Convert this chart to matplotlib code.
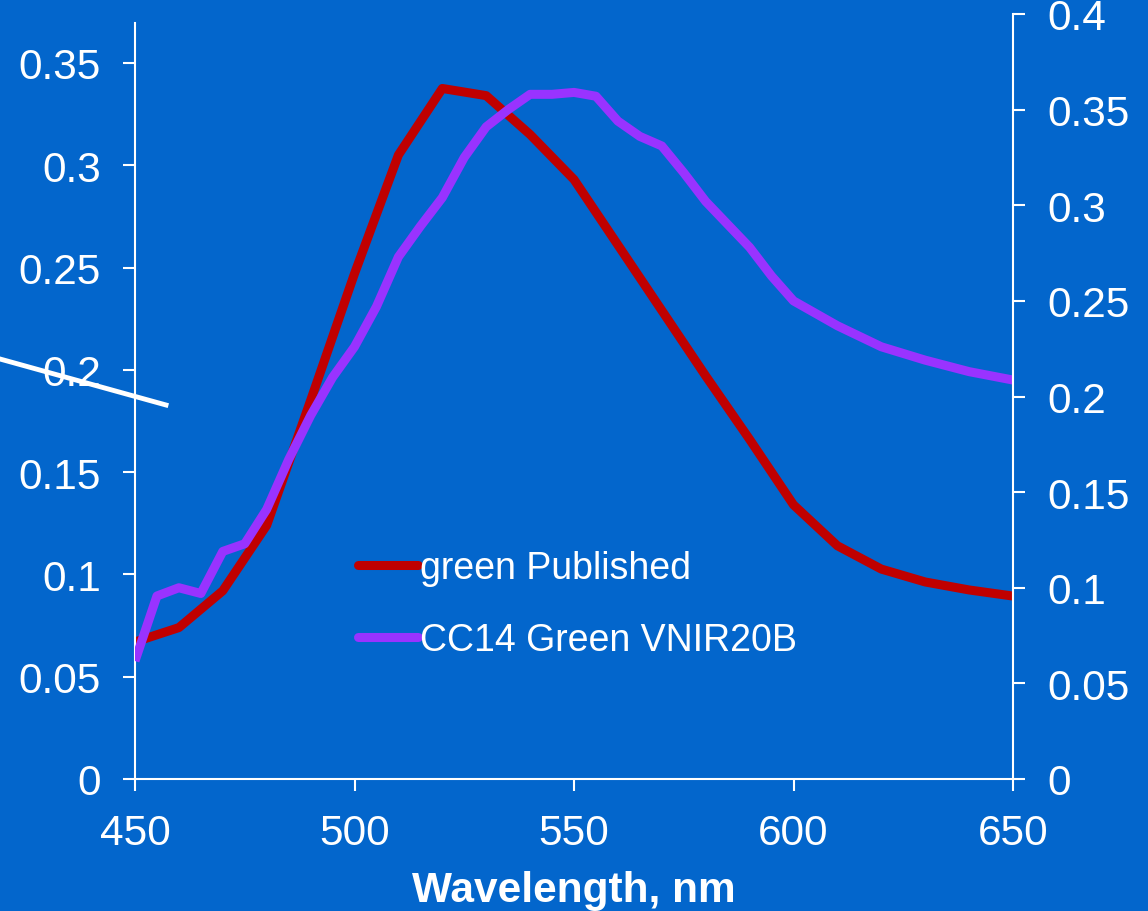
import numpy as np
import matplotlib
matplotlib.use("Agg")
import matplotlib.pyplot as plt
from matplotlib.lines import Line2D
from matplotlib.ticker import FuncFormatter

plt.rcParams['font.family'] = ['Liberation Sans', 'DejaVu Sans']

# colours
BG = '#0366CC'
RED = '#C00000'
PURPLE = '#9933FF'

# data
wl_pub = [450, 460, 470, 480, 490, 500, 510, 520, 530, 540, 550, 560, 570,
          580, 590, 600, 610, 620, 630, 640, 650]
green_pub = [0.067, 0.074, 0.092, 0.124, 0.185, 0.247, 0.305, 0.3375, 0.334,
             0.315, 0.293, 0.261, 0.229, 0.197, 0.166, 0.134, 0.114, 0.1026,
             0.0963, 0.0924, 0.0894]

wl_cc14 = [450, 455, 460, 465, 470, 475, 480, 485, 490, 495, 500, 505, 510,
           515, 520, 525, 530, 535, 540, 545, 550, 555, 560, 565, 570, 575,
           580, 585, 590, 595, 600, 610, 620, 630, 640, 650]
cc14_green = [0.0617, 0.0957, 0.100, 0.097, 0.119, 0.123, 0.141, 0.167, 0.190,
              0.210, 0.226, 0.247, 0.273, 0.289, 0.304, 0.325, 0.341, 0.350,
              0.358, 0.358, 0.359, 0.357, 0.344, 0.336, 0.331, 0.317, 0.302,
              0.290, 0.278, 0.263, 0.250, 0.237, 0.226, 0.219, 0.213, 0.2086]

labels = ['green Published', 'CC14 Green VNIR20B']
x_ticks = [450, 500, 550, 600, 650]
left_ticks = [0, 0.05, 0.1, 0.15, 0.2, 0.25, 0.3, 0.35]
right_ticks = [0, 0.05, 0.1, 0.15, 0.2, 0.25, 0.3, 0.35, 0.4]

fig = plt.figure(figsize=(11.48, 9.12), dpi=100, facecolor=BG)
ax = fig.add_axes([135/1148, 1 - 780/912, 878/1148, 765/912])
ax.set_facecolor(BG)
ax2 = ax.twinx()

l1, = ax.plot(wl_pub, green_pub, color=RED, lw=6.5, solid_capstyle='butt',
              solid_joinstyle='round')
l2, = ax2.plot(wl_cc14, cc14_green, color=PURPLE, lw=6.5,
               solid_capstyle='butt', solid_joinstyle='round')

ax.set_xlim(450, 650)
ax.set_ylim(0, 765/2046)
ax2.set_ylim(0, 0.4)

fmt = FuncFormatter(lambda v, p: '%g' % round(v, 3))
ax.set_xticks(x_ticks)
ax.set_yticks(left_ticks)
ax2.set_yticks(right_ticks)
ax.yaxis.set_major_formatter(fmt)
ax2.yaxis.set_major_formatter(fmt)

for a in (ax, ax2):
    for s in a.spines.values():
        s.set_color('white')
        s.set_linewidth(1.5)
    a.spines['top'].set_visible(False)
    a.tick_params(colors='white', labelsize=30.5, width=1.5, length=8.5,
                  direction='out', pad=16)
ax.spines['right'].set_visible(False)
ax2.spines['left'].set_visible(False)
ax2.spines['bottom'].set_visible(False)
ax.spines['left'].set_bounds(0, 0.3695)

ax.set_xlabel('Wavelength, nm', fontsize=30.5, fontweight='bold', color='white',
              labelpad=12)

leg = ax2.legend([l1, l2], labels, loc='center left',
                 bbox_to_anchor=(358/1148, 1 - 605/912),
                 bbox_transform=fig.transFigure, frameon=False, fontsize=27,
                 handlelength=1.6, handletextpad=0.05, labelspacing=0.95,
                 borderpad=0, borderaxespad=0)
for t in leg.get_texts():
    t.set_color('white')
for h in leg.get_lines():
    h.set_solid_capstyle('round')

# stray white line on the left
fig.add_artist(Line2D([0, 166/1148], [1 - 360/912, 1 - 406/912],
                      color='white', lw=3.5, transform=fig.transFigure))

fig.savefig('out.png', dpi=100, facecolor=BG)
